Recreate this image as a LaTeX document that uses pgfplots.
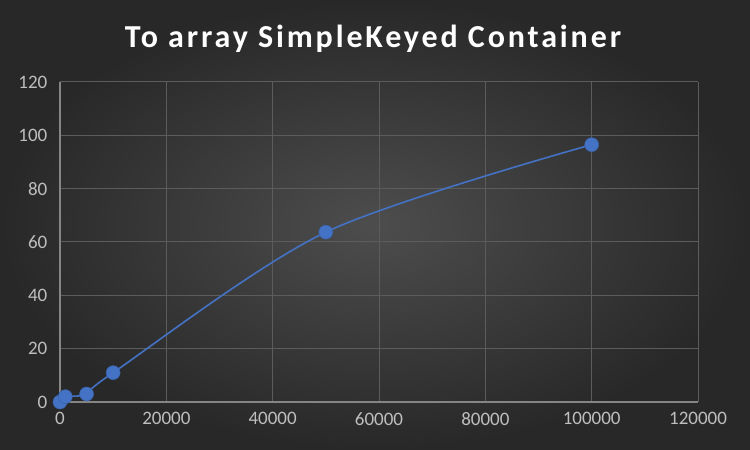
\documentclass[border=0pt]{standalone}
\usepackage{pgfplots}
\pgfplotsset{compat=1.18}
\usepackage{fontspec}
\setmainfont{Carlito}
\definecolor{bgin}{HTML}{4D4D4D}
\definecolor{bgout}{HTML}{282828}
\definecolor{gridc}{HTML}{5C5C5C}
\definecolor{axisline}{HTML}{858585}
\definecolor{ticklab}{HTML}{BEBEBE}
\definecolor{series}{HTML}{4472C4}
\begin{document}
\begin{tikzpicture}[x=1bp,y=1bp]
\shade[inner color=bgin, outer color=bgout] (0,0) rectangle (750,450);
\node[text=white, font=\fontsize{32bp}{36bp}\selectfont\bfseries, anchor=base] at (373,402) {\addfontfeature{LetterSpace=9}To array SimpleKeyed Container};
\begin{axis}[
  at={(60bp,48bp)}, anchor=south west,
  scale only axis, width=638bp, height=320bp,
  xmin=0, xmax=120000, ymin=0, ymax=120,
  xtick={0,20000,40000,60000,80000,100000,120000},
  xticklabels={0,20000,40000,60000,80000,100000,120000},
  ytick={0,20,40,60,80,100,120},
  yticklabels={0,20,40,60,80,100,120},
  scaled x ticks=false,
  grid=major, major grid style={gridc, line width=1bp},
  axis lines=left, axis line style={-, axisline, line width=1.2bp},
  tick style={draw=none},
  ticklabel style={text=ticklab, font=\fontsize{19bp}{22bp}\selectfont},
  xticklabel style={yshift=-5bp},
  yticklabel style={xshift=-7bp},
  clip=false,
]
\addplot[series, line width=1.6bp, smooth, tension=0.5, mark=*, mark size=7bp,
  mark options={fill=series, draw=series!85!black, line width=0.5bp}]
  coordinates {(0,0) (1000,2) (5000,3) (10000,11) (50000,63.7) (100000,96.5)};
\end{axis}
\end{tikzpicture}
\end{document}
